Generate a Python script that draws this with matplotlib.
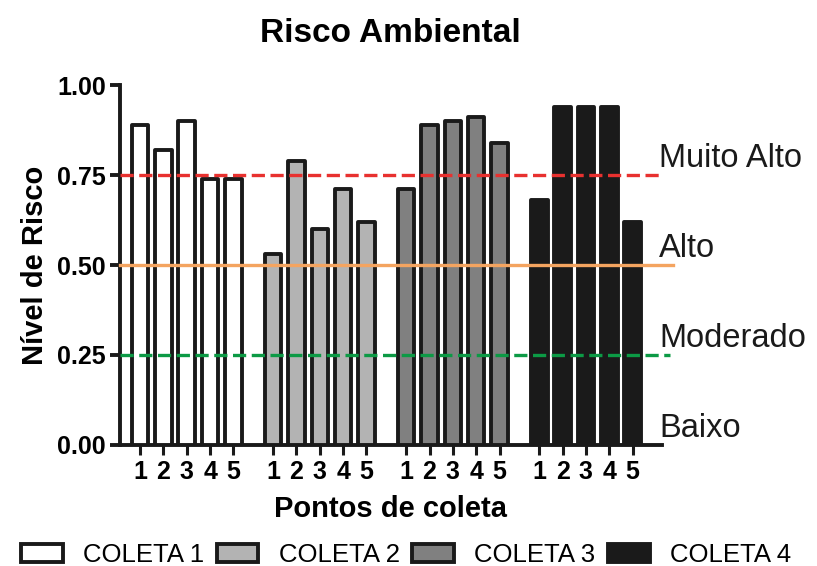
import matplotlib
matplotlib.use("Agg")
import matplotlib.pyplot as plt
import numpy as np

plt.rcParams['font.family'] = ['Liberation Sans', 'DejaVu Sans']
plt.rcParams['lines.scale_dashes'] = False

# ---- data ----
series_names = ['COLETA 1', 'COLETA 2', 'COLETA 3', 'COLETA 4']
point_labels = ['1', '2', '3', '4', '5']
coleta1 = [0.89, 0.82, 0.90, 0.74, 0.74]
coleta2 = [0.53, 0.79, 0.60, 0.71, 0.62]
coleta3 = [0.71, 0.89, 0.90, 0.91, 0.84]
coleta4 = [0.68, 0.94, 0.94, 0.94, 0.62]
series_values = [coleta1, coleta2, coleta3, coleta4]
level_values = [0.75, 0.50, 0.25]
level_names = ['Muito Alto', 'Alto', 'Moderado', 'Baixo']
level_label_pos = [0.75, 0.50, 0.25, 0.0]
yticks = [0.00, 0.25, 0.50, 0.75, 1.00]

# ---- style ----
fill_colors = ['#ffffff', '#b3b3b3', '#808080', '#1a1a1a']
edge_color = '#1a1a1a'
line_colors = ['#e8312f', '#f4a460', '#0c9a45']
line_styles = [(0, (9.5, 4.0)), '-', (0, (9.5, 4.0))]
line_extent = [1.002, 1.020, 1.015]

fig = plt.figure(figsize=(8.17, 5.66), dpi=100)
ax = fig.add_axes([120/817, 1-445/566, (662-120)/817, (445-85)/566])

group_step = 5.7
bar_w = 0.71
handles = []
all_pos = []
for g, vals in enumerate(series_values):
    pos = g*group_step + np.arange(len(vals))
    all_pos.extend(pos)
    b = ax.bar(pos, vals, width=bar_w, color=fill_colors[g], edgecolor=edge_color,
               linewidth=2.8, joinstyle='round', label=series_names[g], zorder=3)
    handles.append(b)

for v, c, ls, ext in zip(level_values, line_colors, line_styles, line_extent):
    ax.plot([0, ext], [v, v], transform=ax.get_yaxis_transform(), color=c,
            linestyle=ls, linewidth=2.4, clip_on=False, zorder=4)

for name, v in zip(level_names, level_label_pos):
    ax.text(0.995, v + 0.022, name, transform=ax.get_yaxis_transform(),
            fontsize=23.5, ha='left', va='baseline', color='#1a1a1a')

ax.set_xlim(-0.86, 3*group_step + 4 + 1.26)
ax.set_ylim(0, 1.0)
ax.set_xticks(all_pos)
ax.set_xticklabels(point_labels * 4, fontsize=18, fontweight='bold')
ax.set_yticks(yticks)
ax.set_yticklabels([f"{t:.2f}" for t in yticks], fontsize=18, fontweight='bold')
for s in ['top', 'right']:
    ax.spines[s].set_visible(False)
for s in ['left', 'bottom']:
    ax.spines[s].set_linewidth(2.8)
    ax.spines[s].set_color(edge_color)
ax.tick_params(axis='y', length=7, width=2.8, color=edge_color, pad=3)
ax.tick_params(axis='x', length=7, width=2.2, color=edge_color, pad=4)

ax.set_ylabel('Nível de Risco', fontsize=21, fontweight='bold', labelpad=6)
ax.set_xlabel('Pontos de coleta', fontsize=21, fontweight='bold', labelpad=8)
fig.text(390/817, 1-42/566, 'Risco Ambiental', fontsize=24, fontweight='bold',
         ha='center', va='baseline')

leg = fig.legend(handles=handles, labels=series_names, loc='center',
                 bbox_to_anchor=(406/817, 1-555/566), ncol=4, frameon=False,
                 fontsize=18.5, handlelength=1.63, handleheight=0.74,
                 handletextpad=0.78, columnspacing=0.5, borderpad=0, borderaxespad=0)

fig.savefig('out.png', dpi=100)
